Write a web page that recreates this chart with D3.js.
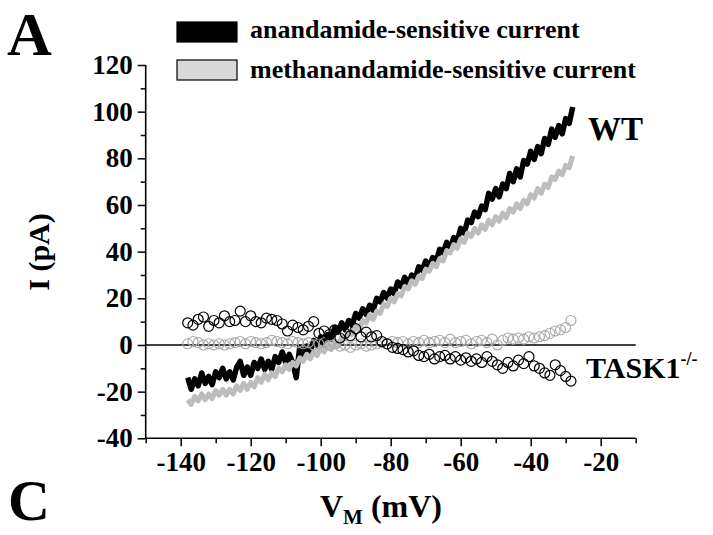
<!DOCTYPE html>
<html>
<head>
<meta charset="utf-8">
<script src="https://cdn.jsdelivr.net/npm/d3@7"></script>
<style>
  html, body { margin: 0; padding: 0; background: #fff; }
  svg { display: block; }
  text { font-family: "Liberation Serif", "Times New Roman", serif; font-weight: bold; fill: #000; }
</style>
</head>
<body>
<svg id="chart" width="713" height="535"></svg>
<script>
// ---- data ----
const traceV = [-138,-137,-136,-135,-134,-133,-132,-131,-130,-129,-128,-127,-126,-125,-124,-123,-122,-121,-120,-119,-118,-117,-116,-115,-114,-113,-112,-111,-110,-109,-108,-107,-106,-105,-104,-103,-102,-101,-100,-99,-98,-97,-96,-95,-94,-93,-92,-91,-90,-89,-88,-87,-86,-85,-84,-83,-82,-81,-80,-79,-78,-77,-76,-75,-74,-73,-72,-71,-70,-69,-68,-67,-66,-65,-64,-63,-62,-61,-60,-59,-58,-57,-56,-55,-54,-53,-52,-51,-50,-49,-48,-47,-46,-45,-44,-43,-42,-41,-40,-39,-38,-37,-36,-35,-34,-33,-32,-31,-30,-29,-28];
const anandamideWT = [-14,-19,-14.5,-17.5,-12,-16.5,-13.5,-17,-11.5,-14,-10,-14.5,-11.5,-15,-9.5,-7,-13,-9.5,-13,-7.5,-10,-6,-10.5,-7,-10.5,-5,-7.5,-3,-7.5,-4,-7.5,-14,-1,-4.5,-0.5,-3,2,-0.5,3.5,0.5,4.5,2.5,7.5,5.5,9.5,6.5,10.5,8.5,13.5,11.5,15.5,13,17,15,20,18.5,22.5,20,24,22,27,25,29,26,30,28.5,33.5,32,36,33.5,37.5,36,41,39.5,44,41.5,46,44.5,50,48,53.5,52.5,57,55,59.5,58,65,62.5,67,63.5,69,67,73.5,70,75.5,72,79,77.5,83,79.5,85,82,88.5,86,92.5,89,94,90.5,97,95,102];
const methanandamideWT = [-23.5,-25.5,-22,-24,-21,-23.5,-21,-23,-19.5,-21.5,-19,-21.5,-19,-21,-17.5,-19.5,-16.5,-19,-16,-18,-14,-16,-12.5,-15,-12,-13.5,-10,-11.5,-8.5,-10.5,-7.5,-9,-5.5,-7,-4,-6,-3,-4.5,-1,-3,0.5,-2,1.5,-0.5,3.5,2.5,6,4.5,8,6.5,10.5,9.5,13,11,14.5,13.5,17.5,16.5,20,18.5,22,21,25,24,27.5,26,29.5,28.5,32.5,31.5,35,33.5,37,36,40.5,39.5,43,41.5,45.5,44,48,46.5,50,48,51.5,49.5,53.5,51.5,55,53,56.5,54.5,58.5,57,60.5,58.5,62,60.5,64.5,63,67,65,69,67.5,72,71,74.5,73,77,76,81];

const circleV = [-138,-136.5,-135,-133.5,-132,-130.5,-129,-127.5,-126,-124.5,-123,-121.5,-120,-118.5,-117,-115.5,-114,-112.5,-111,-109.5,-108,-106.5,-105,-103.5,-102,-100.5,-99,-97.5,-96,-94.5,-93,-91.5,-90,-88.5,-87,-85.5,-84,-82.5,-81,-79.5,-78,-76.5,-75,-73.5,-72,-70.5,-69,-67.5,-66,-64.5,-63,-61.5,-60,-58.5,-57,-55.5,-54,-52.5,-51,-49.5,-48,-46.5,-45,-43.5,-42,-40.5,-39,-37.5,-36,-34.5,-33,-31.5,-30,-28.5];
const anandamideTASK = [9.5,8.5,11,12,8,10.5,9.5,12.5,10,10.5,14.5,10,12.5,10,9.5,11.5,11,10.5,9,6,8.5,7.5,6.5,8,10,5,6,4.5,6.5,3,5,4,7,3.5,5.5,3.5,4,1.5,0.5,-1,-1.5,-2,-3,-2.5,-4.5,-5,-4,-6,-5,-4.5,-6,-5,-6.5,-5.5,-7,-6,-7.5,-5,-7,-8.5,-10,-7.5,-9,-6.5,-8,-5,-9,-10,-12,-13,-8.5,-11,-13.5,-15.5];
const methanandamideTASK = [0.5,1.5,1,0,0.5,0,0.5,0,0.5,1,1.5,0.5,1.5,1,0.5,1,2,1.5,1,0.5,1.5,1,0.5,1,0,0.5,1,0,0.5,-0.5,0,-1,0,0.5,-0.5,0,0.5,1,0.5,1.5,1,1.5,0.5,1.5,1,2,1,1.5,2,1,2.5,1,1.5,2,0.5,1.5,2,1,2.5,0,2,3,2.5,3,2.5,3.5,3,3.5,4,5,6,6.5,7.5,10.5];

const xMajorTicks = [-140,-120,-100,-80,-60,-40,-20];
const xMinorTicks = [-150,-130,-110,-90,-70,-50,-30,-10];
const yMajorTicks = [-40,-20,0,20,40,60,80,100,120];
const yMinorTicks = [-30,-10,10,30,50,70,90,110];
const legendLabels = ["anandamide-sensitive current", "methanandamide-sensitive current"];
const colors = { anandamide: "#000000", methanandamide: "#bdbdbd", circleGray: "#a8a8a8", legendGray: "#d9d9d9" };

// ---- layout ----
const svg = d3.select("#chart");
const x = d3.scaleLinear().domain([-150, -10]).range([145.7, 635.7]);
const y = d3.scaleLinear().domain([-40, 120]).range([438.3, 65]);
const fmt = d => String(d);   // plain hyphen-minus like the original

// zero line
svg.append("line")
  .attr("x1", x(-150)).attr("x2", x(-10))
  .attr("y1", y(0)).attr("y2", y(0))
  .attr("stroke", "#000").attr("stroke-width", 1.4);

// traces
const line = d3.line().x((d, i) => x(traceV[i])).y(d => y(d));
svg.append("path").datum(anandamideWT)
  .attr("d", line).attr("fill", "none")
  .attr("stroke", colors.anandamide).attr("stroke-width", 5.5).attr("stroke-linejoin", "round");
svg.append("path").datum(methanandamideWT)
  .attr("d", line).attr("fill", "none")
  .attr("stroke", colors.methanandamide).attr("stroke-width", 5).attr("stroke-linejoin", "round");

// circles
svg.append("g").selectAll("circle").data(methanandamideTASK).join("circle")
  .attr("cx", (d, i) => x(circleV[i])).attr("cy", d => y(d)).attr("r", 5)
  .attr("fill", "none").attr("stroke", colors.circleGray).attr("stroke-width", 1.1);
svg.append("g").selectAll("circle").data(anandamideTASK).join("circle")
  .attr("cx", (d, i) => x(circleV[i])).attr("cy", d => y(d)).attr("r", 5)
  .attr("fill", "none").attr("stroke", "#000").attr("stroke-width", 1.2);

// axes
const xAxis = svg.append("g").attr("transform", `translate(0,${y(-40)})`)
  .call(d3.axisBottom(x).tickValues(xMajorTicks).tickSize(8).tickPadding(6).tickFormat(fmt));
const xMinor = svg.append("g").attr("transform", `translate(0,${y(-40)})`)
  .call(d3.axisBottom(x).tickValues(xMinorTicks).tickSize(5).tickFormat(""));
const yAxis = svg.append("g").attr("transform", `translate(${x(-150)},0)`)
  .call(d3.axisLeft(y).tickValues(yMajorTicks).tickSize(8).tickPadding(5).tickFormat(fmt));
const yMinor = svg.append("g").attr("transform", `translate(${x(-150)},0)`)
  .call(d3.axisLeft(y).tickValues(yMinorTicks).tickSize(5).tickFormat(""));
[xAxis, xMinor, yAxis, yMinor].forEach(g => {
  g.select(".domain").attr("stroke", "#000").attr("stroke-width", 1.6);
  g.selectAll(".tick line").attr("stroke", "#000").attr("stroke-width", 1.5);
  g.selectAll("text").attr("font-family", "Liberation Serif, Times New Roman, serif")
    .attr("font-weight", "bold").attr("font-size", 27).attr("fill", "#000");
});
xMinor.select(".domain").remove();
yMinor.select(".domain").remove();
xAxis.select(".domain").attr("d", `M${x(-150)},0H${x(-10)}`);
yAxis.select(".domain").attr("d", `M0,${y(120)}V${y(-40)}`);

// axis titles
const xt = svg.append("text").attr("x", 381).attr("y", 517).attr("text-anchor", "middle").attr("font-size", 32);
xt.append("tspan").text("V");
xt.append("tspan").text("M").attr("font-size", 21).attr("dy", 7);
xt.append("tspan").text(" (mV)").attr("dy", -7);

svg.append("text").attr("transform", "translate(49,252) rotate(-90)")
  .attr("text-anchor", "middle").attr("font-size", 30).text("I (pA)");

// panel letters
svg.append("text").attr("x", 7).attr("y", 55).attr("font-size", 62).text("A");
svg.append("text").attr("x", 8).attr("y", 520).attr("font-size", 58).text("C");

// series labels
svg.append("text").attr("x", 588).attr("y", 140).attr("font-size", 33).text("WT");
const tk = svg.append("text").attr("x", 586).attr("y", 378).attr("font-size", 30);
tk.append("tspan").text("TASK1");
tk.append("tspan").text("-/-").attr("font-size", 18).attr("dy", -13);

// legend
const lg = svg.append("g");
lg.append("rect").attr("x", 177).attr("y", 22).attr("width", 60).attr("height", 20)
  .attr("fill", colors.anandamide).attr("stroke", "#000").attr("stroke-width", 1.2);
lg.append("rect").attr("x", 177).attr("y", 60).attr("width", 60).attr("height", 20)
  .attr("fill", colors.legendGray).attr("stroke", "#000").attr("stroke-width", 1.2);
lg.append("text").attr("x", 250).attr("y", 38).attr("font-size", 26).text(legendLabels[0]);
lg.append("text").attr("x", 250).attr("y", 78).attr("font-size", 26).text(legendLabels[1]);
</script>
</body>
</html>
